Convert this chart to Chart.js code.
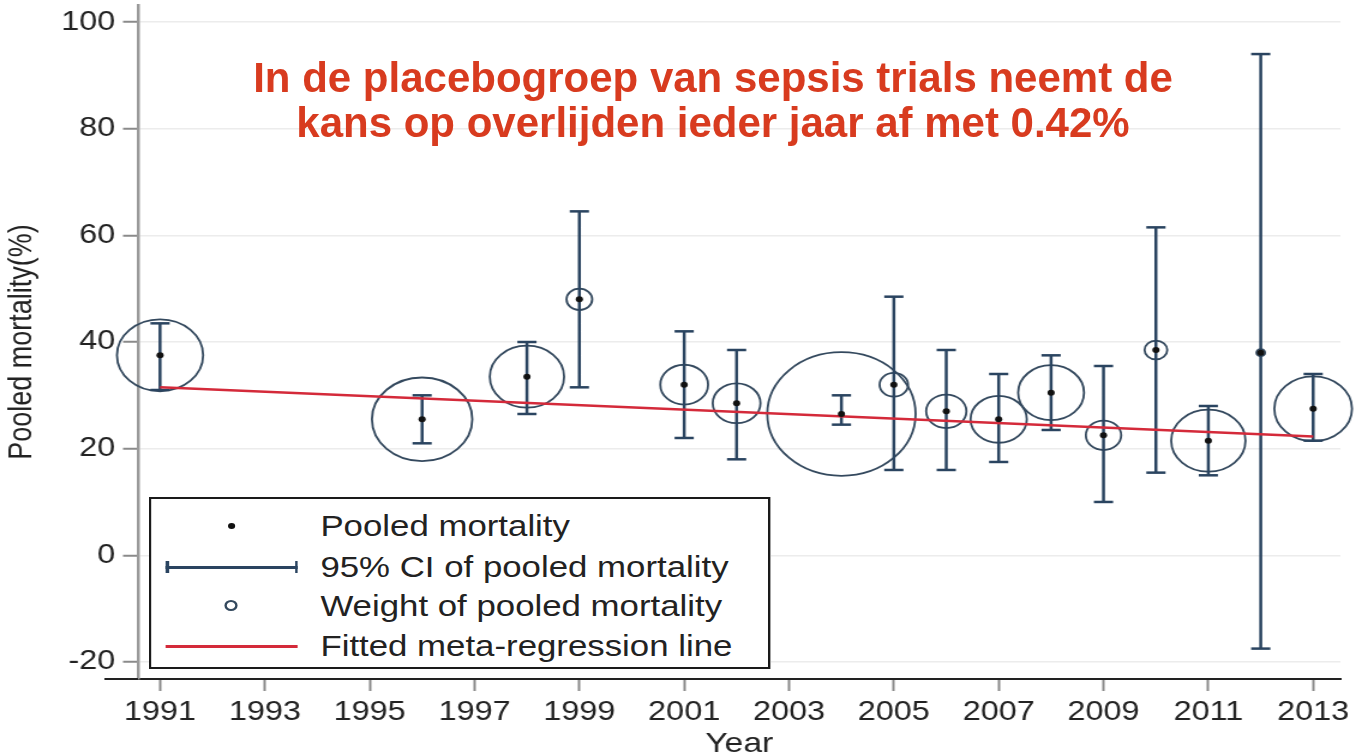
<!DOCTYPE html>
<html>
<head>
<meta charset="utf-8">
<title>Pooled mortality per year</title>
<script src="https://cdn.jsdelivr.net/npm/chart.js@4.4.1/dist/chart.umd.min.js"></script>
<style>
    html, body { margin: 0; padding: 0; background: #fff; overflow: hidden; }
    #page { position: relative; width: 1356px; height: 753px; font-family: "Liberation Sans", Arial, sans-serif; }
    /* the original graph is stretched horizontally by about 1.2 */
    #stretch { position: absolute; left: 0; top: 0; width: 1130px; height: 753px; transform: scaleX(1.2); transform-origin: 0 0; }
    #stretch canvas { position: absolute; left: 0; top: 0; }
    .headline { position: absolute; left: 213px; top: 55px; width: 1000px; text-align: center; color: #d83b1f; font-weight: bold; font-size: 42px; line-height: 45px; }
    .legend-box { position: absolute; left: 124px; top: 497px; width: 518px; height: 172px; box-sizing: border-box; border: 2px solid #1a1a1a; background: #fff; }
    .legend-row { position: absolute; left: 0; width: 100%; height: 34px; }
    .legend-row .txt { position: absolute; left: 141px; top: 0; font-size: 29px; line-height: 34px; color: #222; white-space: nowrap; }
    .sym { position: absolute; }
    .sym-dot { left: 64px; top: 14px; width: 6px; height: 6px; border-radius: 50%; background: #111; }
    .sym-ci { left: 12px; top: 16px; width: 110px; height: 2.5px; background: #2a4460; }
    .sym-ci::before, .sym-ci::after { content: ""; position: absolute; top: -5px; width: 2.5px; height: 12px; background: #2a4460; }
    .sym-ci::before { left: 0; }
    .sym-ci::after { right: 0; }
    .sym-circle { left: 61px; top: 11px; width: 11px; height: 11px; box-sizing: border-box; border-radius: 50%; border: 2px solid #34495e; }
    .sym-line { left: 12px; top: 16px; width: 110px; height: 2.5px; background: #d42a3a; }
</style>
</head>
<body>
<div id="page">
    <div id="stretch">
        <canvas id="mortalityChart" width="1130" height="753"></canvas>
        <div class="legend-box">
            <div class="legend-row" style="top:10px"><span class="sym sym-dot"></span><span class="txt">Pooled mortality</span></div>
            <div class="legend-row" style="top:51px"><span class="sym sym-ci"></span><span class="txt">95% CI of pooled mortality</span></div>
            <div class="legend-row" style="top:90px"><span class="sym sym-circle"></span><span class="txt">Weight of pooled mortality</span></div>
            <div class="legend-row" style="top:130px"><span class="sym sym-line"></span><span class="txt">Fitted meta-regression line</span></div>
        </div>
    </div>
    <div class="headline">In de placebogroep van sepsis trials neemt de<br>kans op overlijden ieder jaar af met 0.42%</div>
</div>

<script>
// values
const years = [1991, 1996, 1998, 1999, 2001, 2002, 2004, 2005, 2006, 2007, 2008, 2009, 2010, 2011, 2012, 2013];
const pooledMortality = [37.5, 25.5, 33.5, 48, 32, 28.5, 26.5, 32, 27, 25.5, 30.5, 22.5, 38.5, 21.5, 38, 27.5];
const ciLow = [31, 21, 26.5, 31.5, 22, 18, 24.5, 16, 16, 17.5, 23.5, 10, 15.5, 15, -17.5, 21.5];
const ciHigh = [43.5, 30, 40, 64.5, 42, 38.5, 30, 48.5, 38.5, 34, 37.5, 35.5, 61.5, 28, 94, 34];
const weights = [10.1, 13.7, 7.5, 0.9, 3.1, 3.1, 29.9, 1.1, 2.2, 4.3, 5.9, 1.7, 0.7, 7.5, 0.1, 8.2]; // % weight

const fitYears = [1991, 2013];
const fitValues = [31.5, 22.3];

const xTickLabels = ['1991', '1993', '1995', '1997', '1999', '2001', '2003', '2005', '2007', '2009', '2011', '2013'];
const yTickLabels = ['-20', '0', '20', '40', '60', '80', '100'];

const WEIGHT_SCALE = 11.3; // circle radius = scale * sqrt(weight)
const CI_COLOR = '#2a4460';
const CIRCLE_COLOR = '#34495e';
const FIT_COLOR = '#d42a3a';

Chart.defaults.font.family = '"Liberation Sans", Arial, sans-serif';
Chart.defaults.color = '#222';

const ciPoints = [];
years.forEach((yr, i) => {
    ciPoints.push({ x: yr, y: ciLow[i] }, { x: yr, y: ciHigh[i] }, { x: yr, y: null });
});

// x axis line in Stata runs a bit further left than the plot region
const axisExtension = {
    id: 'axisExtension',
    afterDraw(chart) {
        const { ctx, chartArea } = chart;
        ctx.save();
        ctx.strokeStyle = '#222';
        ctx.lineWidth = 2;
        ctx.beginPath();
        ctx.moveTo(87, chartArea.bottom);
        ctx.lineTo(chartArea.left, chartArea.bottom);
        ctx.stroke();
        ctx.restore();
    }
};

new Chart(document.getElementById('mortalityChart').getContext('2d'), {
    type: 'scatter',
    data: {
        datasets: [
            {
                label: 'Pooled mortality',
                data: years.map((yr, i) => ({ x: yr, y: pooledMortality[i] })),
                pointRadius: 3,
                pointBackgroundColor: '#111',
                pointBorderWidth: 0,
                order: 0,
                clip: false
            },
            {
                type: 'line',
                label: 'Fitted meta-regression line',
                data: fitYears.map((yr, i) => ({ x: yr, y: fitValues[i] })),
                borderColor: FIT_COLOR,
                borderWidth: 2.5,
                pointRadius: 0,
                tension: 0,
                order: 1,
                clip: false
            },
            {
                type: 'line',
                label: '95% CI of pooled mortality',
                data: ciPoints,
                borderColor: CI_COLOR,
                borderWidth: 2.5,
                spanGaps: false,
                pointStyle: 'line',
                pointRadius: 8,
                pointBorderWidth: 2.5,
                pointBorderColor: CI_COLOR,
                order: 2,
                clip: false
            },
            {
                label: 'Weight of pooled mortality',
                data: years.map((yr, i) => ({ x: yr, y: pooledMortality[i] })),
                pointRadius: ctx => WEIGHT_SCALE * Math.sqrt(weights[ctx.dataIndex]),
                pointBackgroundColor: 'rgba(0,0,0,0)',
                pointBorderColor: CIRCLE_COLOR,
                pointBorderWidth: 1.8,
                order: 3,
                clip: false
            }
        ]
    },
    options: {
        responsive: false,
        animation: false,
        layout: { autoPadding: false, padding: { top: 5, right: 13, left: 0, bottom: 0 } },
        plugins: {
            legend: { display: false },
            tooltip: { enabled: false }
        },
        scales: {
            x: {
                type: 'linear',
                min: 1990.58,
                max: 2013.52,
                afterBuildTicks: scale => { scale.ticks = xTickLabels.map(t => ({ value: Number(t) })); },
                afterFit: scale => { scale.height = 74; scale.paddingLeft = 0; scale.paddingRight = 0; },
                grid: { drawOnChartArea: false, tickColor: '#8a8a8a', tickLength: 12, tickWidth: 2 },
                border: { color: '#222', width: 2 },
                ticks: { font: { size: 27 }, color: '#222', padding: 5, maxRotation: 0, autoSkip: false,
                    callback: value => String(value) },
                title: { display: true, text: 'Year', font: { size: 28 }, color: '#222', padding: { top: 0, bottom: -8 } }
            },
            y: {
                min: -23.2,
                max: 103.2,
                afterBuildTicks: scale => { scale.ticks = yTickLabels.map(t => ({ value: Number(t) })); },
                afterFit: scale => { scale.width = 115; scale.paddingTop = 0; scale.paddingBottom = 0; },
                grid: { color: '#ececec', lineWidth: 1.5, tickColor: '#8a8a8a', tickLength: 12.5, tickWidth: 2 },
                border: { color: '#9a9a9a', width: 2.5 },
                ticks: { font: { size: 27 }, color: '#222', padding: 6.5, callback: value => String(value) },
                title: { display: true, text: 'Pooled mortality(%)', font: { size: 27 }, color: '#222', padding: { top: 2, bottom: 0 } }
            }
        }
    },
    plugins: [axisExtension]
});
</script>
</body>
</html>
